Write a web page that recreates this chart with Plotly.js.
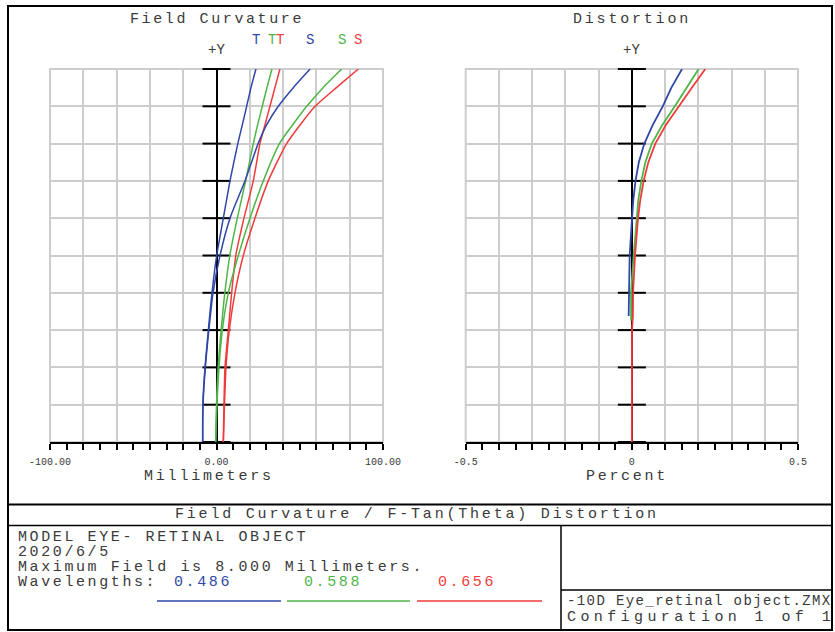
<!DOCTYPE html>
<html><head><meta charset="utf-8">
<script src="https://cdn.plot.ly/plotly-3.0.1.min.js"></script>
<style>html,body{margin:0;padding:0;background:#fff}#chart{width:835px;height:632px}</style>
</head><body><div id="chart"></div>
<script>
// ---- Data ----
const fieldMm = [0, 0.8, 1.6, 2.4, 3.2, 4.0, 4.8, 5.6, 6.4, 6.8, 7.2, 7.6, 8.0];
const fc486T = [-8.3, -8.2, -6.9, -4.9, -2.7, 0.1, 4.1, 8.1, 12.8, 15.5, 18.1, 20.7, 23.7];
const fc486S = [-8.3, -8.1, -6.7, -4.6, -2.1, 2.1, 8.1, 17.1, 25.0, 30.1, 37.1, 46.1, 56.2];
const fc588T = [-0.5, 0.0, 1.0, 2.8, 5.0, 8.0, 12.5, 17.5, 22.1, 24.7, 27.5, 30.3, 33.3];
const fc588S = [-0.5, 0.3, 1.5, 3.5, 7.1, 13.1, 20.1, 28.1, 37.8, 45.7, 54.2, 64.0, 75.2];
const fc656T = [4.1, 4.5, 5.1, 7.1, 9.1, 11.6, 16.5, 22.1, 26.1, 29.1, 32.1, 35.1, 38.1];
const fc656S = [4.1, 4.8, 5.7, 7.7, 11.1, 16.1, 23.1, 31.1, 42.1, 50.2, 59.2, 72.0, 85.2];

const distField486 = [2.7, 3.2, 4.0, 4.8, 5.2, 5.6, 6.0, 6.4, 6.8, 7.2, 7.6, 8.0];
const dist486 = [-0.0096, -0.0084, -0.0066, 0.0006, 0.0045, 0.011, 0.021, 0.0376, 0.063, 0.093, 0.119, 0.151];
const distField588 = [2.6, 3.2, 4.0, 4.8, 5.2, 5.6, 6.0, 6.4, 6.8, 7.2, 7.6, 8.0];
const dist588 = [-0.0024, -0.0024, 0.0054, 0.0135, 0.0196, 0.0286, 0.0406, 0.0601, 0.0917, 0.1293, 0.1654, 0.2009];
const distField656 = [0, 1.6, 2.4, 2.7, 3.2, 4.0, 4.8, 5.2, 5.6, 6.0, 6.4, 6.8, 7.2, 7.6, 8.0];
const dist656 = [0, 0, 0.0004, 0.0032, 0.0036, 0.0096, 0.0186, 0.0256, 0.0355, 0.0496, 0.0707, 0.1023, 0.1408, 0.1805, 0.221];

const wavelengths = ['0.486', '0.588', '0.656'];
const fieldTicks = [0, 0.8, 1.6, 2.4, 3.2, 4.0, 4.8, 5.6, 6.4, 7.2, 8.0];
const mmTickVals = [-100, -80, -60, -40, -20, 0, 20, 40, 60, 80, 100];
const mmTickText = ['-100.00', '', '', '', '', '0.00', '', '', '', '', '100.00'];
const mmMinorVals = [-90, -70, -50, -30, -10, 10, 30, 50, 70, 90];
const pctTickVals = [-0.5, -0.4, -0.3, -0.2, -0.1, 0, 0.1, 0.2, 0.3, 0.4, 0.5];
const pctTickText = ['-0.5', '', '', '', '', '0', '', '', '', '', '0.5'];
const pctMinorVals = [-0.45, -0.35, -0.25, -0.15, -0.05, 0.05, 0.15, 0.25, 0.35, 0.45];

// ---- Styling ----
const COL = ['#2f47a6', '#4fb548', '#ef3b3b'];
const TXT = '#3a3a3a';
const GRID = '#cdcdcd';
const MONO = 'Liberation Mono, Courier New, monospace';
const W = 835, H = 632;
const px = v => v / W;
const py = v => 1 - v / H;
const sp = (t, ls) => '<span style="letter-spacing:' + ls + 'px">' + t + '</span>';

const traces = [];
traces.push({x: fieldTicks.map(() => 0), y: fieldTicks, xaxis: 'x', yaxis: 'y', mode: 'markers',
  marker: {symbol: 'line-ew', size: 20, line: {width: 2, color: '#000'}}, hoverinfo: 'skip', cliponaxis: false});
traces.push({x: fieldTicks.map(() => 0), y: fieldTicks, xaxis: 'x2', yaxis: 'y2', mode: 'markers',
  marker: {symbol: 'line-ew', size: 20, line: {width: 2, color: '#000'}}, hoverinfo: 'skip', cliponaxis: false});

const fcSeries = [[fc486T, 0], [fc588T, 1], [fc656T, 2], [fc486S, 0], [fc588S, 1], [fc656S, 2]];
fcSeries.forEach(([vals, c]) => traces.push({x: vals, y: fieldMm, xaxis: 'x', yaxis: 'y', mode: 'lines',
  line: {color: COL[c], width: 1.5, shape: 'spline', smoothing: 0.6}, hoverinfo: 'skip'}));

const dSeries = [[dist486, distField486, 0], [dist588, distField588, 1], [dist656, distField656, 2]];
dSeries.forEach(([vals, f, c]) => traces.push({x: vals, y: f, xaxis: 'x2', yaxis: 'y2', mode: 'lines',
  line: {color: COL[c], width: 1.8}, hoverinfo: 'skip'}));

const baseX = {
  ticks: 'outside', ticklen: 6, tickwidth: 2, tickcolor: '#000',
  showline: true, linecolor: '#000', linewidth: 2,
  zeroline: true, zerolinecolor: '#000', zerolinewidth: 2,
  showgrid: true, gridcolor: GRID, gridwidth: 2,
  tickfont: {family: MONO, size: 10, color: TXT}, ticklabelstandoff: 3,
  tickmode: 'array', fixedrange: true
};
const baseY = {
  range: [0, 8], tickmode: 'array', tickvals: fieldTicks, showticklabels: false, ticks: '',
  showgrid: true, gridcolor: GRID, gridwidth: 2, zeroline: false, showline: false, fixedrange: true,
  domain: [py(442), py(69)]
};

const annotations = [];
const ann = (o) => annotations.push(Object.assign({showarrow: false, xanchor: 'center', yanchor: 'middle',
  font: {family: MONO, size: 15, color: TXT}}, o));
ann({text: sp('Field Curvature', 2.6), xref: 'x', x: 0, yref: 'paper', y: py(19)});
ann({text: sp('Distortion', 2.8), xref: 'x2', x: 0, yref: 'paper', y: py(19)});
ann({text: '+Y', xref: 'x', x: 0, yref: 'paper', y: py(50), font: {family: MONO, size: 14, color: TXT}});
ann({text: '+Y', xref: 'x2', x: 0, yref: 'paper', y: py(50), font: {family: MONO, size: 14, color: TXT}});
ann({text: sp('Millimeters', 2.8), xref: 'x', x: 0, xshift: -8, yref: 'paper', y: py(476)});
ann({text: sp('Percent', 2.7), xref: 'x2', x: 0, xshift: -5, yref: 'paper', y: py(476)});
fcSeries.forEach(([vals, c], i) => ann({text: i < 3 ? 'T' : 'S', xref: 'x', x: vals[vals.length - 1],
  yref: 'paper', y: py(40), font: {family: MONO, size: 14, color: COL[c]}}));
ann({text: sp('Field Curvature / F-Tan(Theta) Distortion', 2.8), xref: 'paper', x: px(417), yref: 'paper', y: py(514.5)});
const leftLines = ['MODEL EYE- RETINAL OBJECT', '2020/6/5', 'Maximum Field is 8.000 Millimeters.', 'Wavelengths:'];
const leftY = [537, 552, 567, 582];
leftLines.forEach((t, i) => ann({text: sp(t, 2.6), xref: 'paper', x: px(16), xanchor: 'left', yref: 'paper', y: py(leftY[i])}));
const wlX = [172, 302, 436];
wavelengths.forEach((w, i) => ann({text: sp(w, 2.6), xref: 'paper', x: px(wlX[i]), xanchor: 'left', yref: 'paper', y: py(582),
  font: {family: MONO, size: 15, color: COL[i]}}));
ann({text: sp('-10D Eye_retinal object.ZMX', 1.4), xref: 'paper', x: px(565), xanchor: 'left', yref: 'paper', y: py(601),
  font: {family: MONO, size: 14, color: TXT}});
ann({text: sp('Configuration 1 of 1', 4.4), xref: 'paper', x: px(565), xanchor: 'left', yref: 'paper', y: py(617),
  font: {family: MONO, size: 15, color: TXT}});

const L = (x0, y0, x1, y1, color, width) => ({type: 'line', xref: 'paper', yref: 'paper',
  x0: px(x0), y0: py(y0), x1: px(x1), y1: py(y1), line: {color: color, width: width}});
const frame = (xr, yr) => ({type: 'rect', xref: xr + ' domain', yref: yr + ' domain', x0: 0, x1: 1, y0: 0, y1: 1,
  line: {color: GRID, width: 2}, layer: 'below'});
const shapes = [
  frame('x', 'y'), frame('x2', 'y2'),
  {type: 'rect', xref: 'paper', yref: 'paper', x0: px(8), y0: py(6), x1: px(832), y1: py(630), line: {color: '#000', width: 2}},
  L(8, 504.5, 832, 504.5, '#000', 2),
  L(8, 525.5, 832, 525.5, '#000', 1.5),
  L(561, 525.5, 561, 630, '#000', 1.5),
  L(561, 590, 832, 590, '#000', 1.5),
  L(157, 601, 281, 601, COL[0], 1.5),
  L(287, 601, 410, 601, COL[1], 1.5),
  L(417, 601, 542, 601, COL[2], 1.5)
];

const layout = {
  width: W, height: H, margin: {l: 0, r: 0, t: 0, b: 0},
  paper_bgcolor: '#fff', plot_bgcolor: '#fff', showlegend: false,
  xaxis: Object.assign({}, baseX, {domain: [px(50), px(383)], range: [-100, 100], anchor: 'y',
    tickvals: mmTickVals, ticktext: mmTickText,
    minor: {tickmode: 'array', tickvals: mmMinorVals, ticks: 'outside', ticklen: 6, tickwidth: 2, tickcolor: '#000', showgrid: false}}),
  yaxis: Object.assign({}, baseY, {anchor: 'x'}),
  xaxis2: Object.assign({}, baseX, {domain: [px(465.7), px(798)], range: [-0.5, 0.5], anchor: 'y2',
    tickvals: pctTickVals, ticktext: pctTickText,
    minor: {tickmode: 'array', tickvals: pctMinorVals, ticks: 'outside', ticklen: 6, tickwidth: 2, tickcolor: '#000', showgrid: false}}),
  yaxis2: Object.assign({}, baseY, {anchor: 'x2'}),
  annotations: annotations,
  shapes: shapes
};

Plotly.newPlot('chart', traces, layout, {displayModeBar: false, staticPlot: true});
</script>
</body></html>
